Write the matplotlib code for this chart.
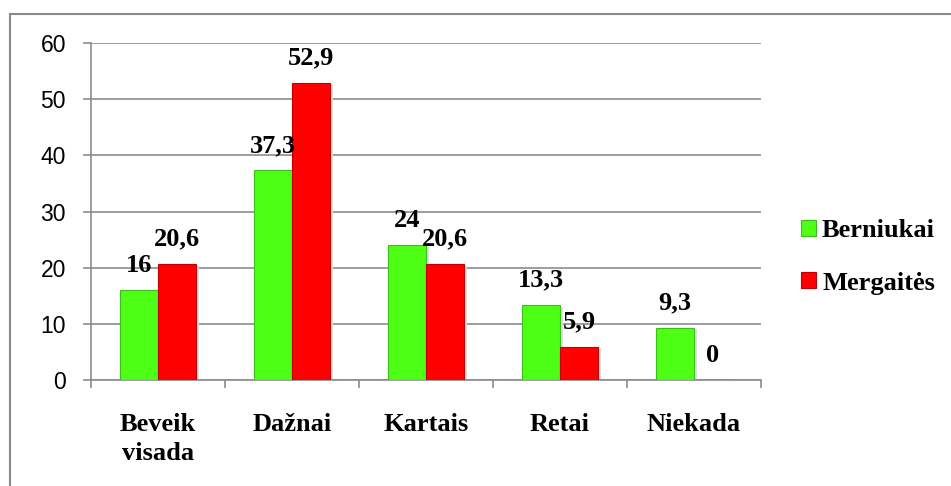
import matplotlib
matplotlib.use("Agg")
import matplotlib.pyplot as plt
import numpy as np
from matplotlib.patches import Rectangle, Patch

categories = ["Beveik\nvisada", "Dažnai", "Kartais", "Retai", "Niekada"]
berniukai = [16, 37.3, 24, 13.3, 9.3]
mergaites = [20.6, 52.9, 20.6, 5.9, 0]
labels_b = ["16", "37,3", "24", "13,3", "9,3"]
labels_m = ["20,6", "52,9", "20,6", "5,9", "0"]
series_names = ["Berniukai", "Mergaitės"]
yticks = [0, 10, 20, 30, 40, 50, 60]

green = "#4CFF14"
green_edge = "#3DBE1C"
red = "#FF0000"
red_edge = "#C00000"
grid_col = "#8C8C8C"
serif = "Liberation Serif"
sans = "Liberation Sans"

fig = plt.figure(figsize=(9.51, 4.86), dpi=100)
ax = fig.add_axes([91/951, 1-380/486, (761-91)/951, (380-43)/486])

x = np.arange(len(categories))
w = 0.284
off = 0.142

# light shadow
ax.bar(x - off + 0.02, berniukai, w, bottom=-0.25, color="#DDDDDD", zorder=2, linewidth=0)
ax.bar(x + off + 0.02, mergaites, w, bottom=-0.25, color="#DDDDDD", zorder=2, linewidth=0)

ax.bar(x - off, berniukai, w, color=green, edgecolor=green_edge, linewidth=0.8, zorder=3)
ax.bar(x + off, mergaites, w, color=red, edgecolor=red_edge, linewidth=0.8, zorder=3)

for xi, v, t in zip(x - off, berniukai, labels_b):
    ax.annotate(t, xy=(xi, v), xytext=(0, 18), textcoords="offset points",
                ha="center", va="center", fontsize=19, fontweight="bold", family=serif, zorder=5)
for xi, v, t in zip(x + off, mergaites, labels_m):
    ax.annotate(t, xy=(xi, v), xytext=(0, 18), textcoords="offset points",
                ha="center", va="center", fontsize=19, fontweight="bold", family=serif, zorder=5)

ax.set_xlim(-0.5, 4.5)
ax.set_ylim(0, 60)
ax.set_yticks(yticks)
ax.set_yticklabels([str(t) for t in yticks])
ax.tick_params(axis="y", length=6, width=1.2, color=grid_col, pad=12)

ax.set_xticks(x)
ax.set_xticklabels(categories)
ax.tick_params(axis="x", which="major", length=0, pad=24)
ax.set_xticks(np.arange(-0.5, 5, 1), minor=True)
ax.tick_params(axis="x", which="minor", length=6, width=1.2, color=grid_col)

for lab in ax.get_yticklabels():
    lab.set_fontfamily(sans)
    lab.set_fontsize(16.5)
for lab in ax.get_xticklabels():
    lab.set_fontfamily(serif)
    lab.set_fontweight("bold")
    lab.set_fontsize(19)
    lab.set_linespacing(1.3)

ax.yaxis.grid(True, color=grid_col, linewidth=1.2, zorder=0)
ax.set_axisbelow(True)
for s in ["top", "right"]:
    ax.spines[s].set_visible(False)
for s in ["left", "bottom"]:
    ax.spines[s].set_color(grid_col)
    ax.spines[s].set_linewidth(1.2)

handles = [Patch(facecolor=green, edgecolor=green_edge, linewidth=0.8),
           Patch(facecolor=red, edgecolor=red_edge, linewidth=0.8)]
fig.legend(handles, series_names, loc="center left", bbox_to_anchor=(801/951, 1-257/486),
           frameon=False, prop={"family": serif, "weight": "bold", "size": 19},
           handlelength=0.55, handleheight=0.55, handletextpad=0.25, labelspacing=1.1,
           borderpad=0, borderaxespad=0)

fig.add_artist(Rectangle((10/951, -0.2), 1.5, 1.2 - 14/486, transform=fig.transFigure,
                         fill=False, edgecolor="#8A8A8A", linewidth=1.5, clip_on=False))

fig.savefig("out.png", dpi=100)
